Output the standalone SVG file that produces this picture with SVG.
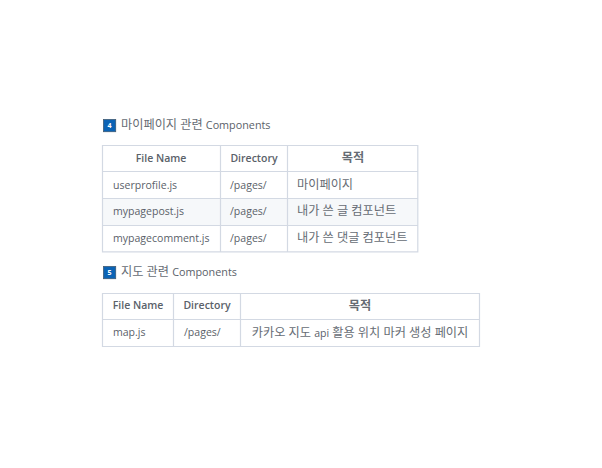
<svg xmlns="http://www.w3.org/2000/svg" width="602" height="468" viewBox="0 0 602 468">
<style>
text{font-family:"Open Sans","Noto Sans CJK KR",sans-serif;font-size:10.55px;fill:#5a6169}
.h{font-weight:600;font-size:10.5px}
.t{font-size:10.8px}
.k{font-size:12.2px;fill:#666c74}
.m{text-anchor:middle}
.l{fill:none;stroke:#d3d9e3;stroke-width:1.2}
.b{fill:#0b63b5;stroke:#45525e;stroke-width:.6}
.n{fill:#fff;font-size:7px;font-weight:700;text-anchor:middle}
</style>
<rect width="602" height="468" fill="#fff"/>
<g id="title4"><rect class="b" x="103.300" y="119.300" width="12.500" height="12.500"/><text class="n" x="109.500" y="128">4</text><text class="t" x="121" y="129"><tspan class="k">마이페이지 관련 </tspan>Components</text></g>
<g id="table4">
<rect x="102.500" y="198.500" width="315" height="27" fill="#f6f8fa"/>
<path class="l" d="M102.500 145.500H417.800V251.800H102.500ZM102.500 171.500H417.800M102.500 198.500H417.800M102.500 225.500H417.800M220.500 145.500V251.800M287.500 145.500V251.800"/>
<text class="h m" x="161" y="162">File Name</text><text class="h m" x="254" y="162">Directory</text><text class="h m k" x="353" y="162">목적</text>
<text x="113" y="189">userprofile.js</text><text x="230" y="189">/pages/</text><text class="k" x="297" y="188.500">마이페이지</text>
<text x="113" y="215">mypagepost.js</text><text x="230" y="215">/pages/</text><text class="k" x="297" y="214.500">내가 쓴 글 컴포넌트</text>
<text x="113" y="242">mypagecomment.js</text><text x="230" y="242">/pages/</text><text class="k" x="297" y="241.500">내가 쓴 댓글 컴포넌트</text>
</g>
<g id="title5"><rect class="b" x="103.300" y="266.300" width="12.500" height="12.500"/><text class="n" x="109.500" y="275">5</text><text class="t" x="121" y="276"><tspan class="k">지도 관련 </tspan>Components</text></g>
<g id="table5">
<path class="l" d="M102.500 293.500H479.500V346.500H102.500ZM102.500 319.500H479.500M173.500 293.500V346.500M240.500 293.500V346.500"/>
<text class="h m" x="138" y="309">File Name</text><text class="h m" x="207" y="309">Directory</text><text class="h m k" x="360" y="309.500">목적</text>
<text x="113" y="336">map.js</text><text x="184" y="336">/pages/</text><text class="m" x="360" y="336.500"><tspan class="k">카카오 지도 </tspan>api<tspan class="k"> 활용 위치 마커 생성 페이지</tspan></text>
</g>
</svg>
